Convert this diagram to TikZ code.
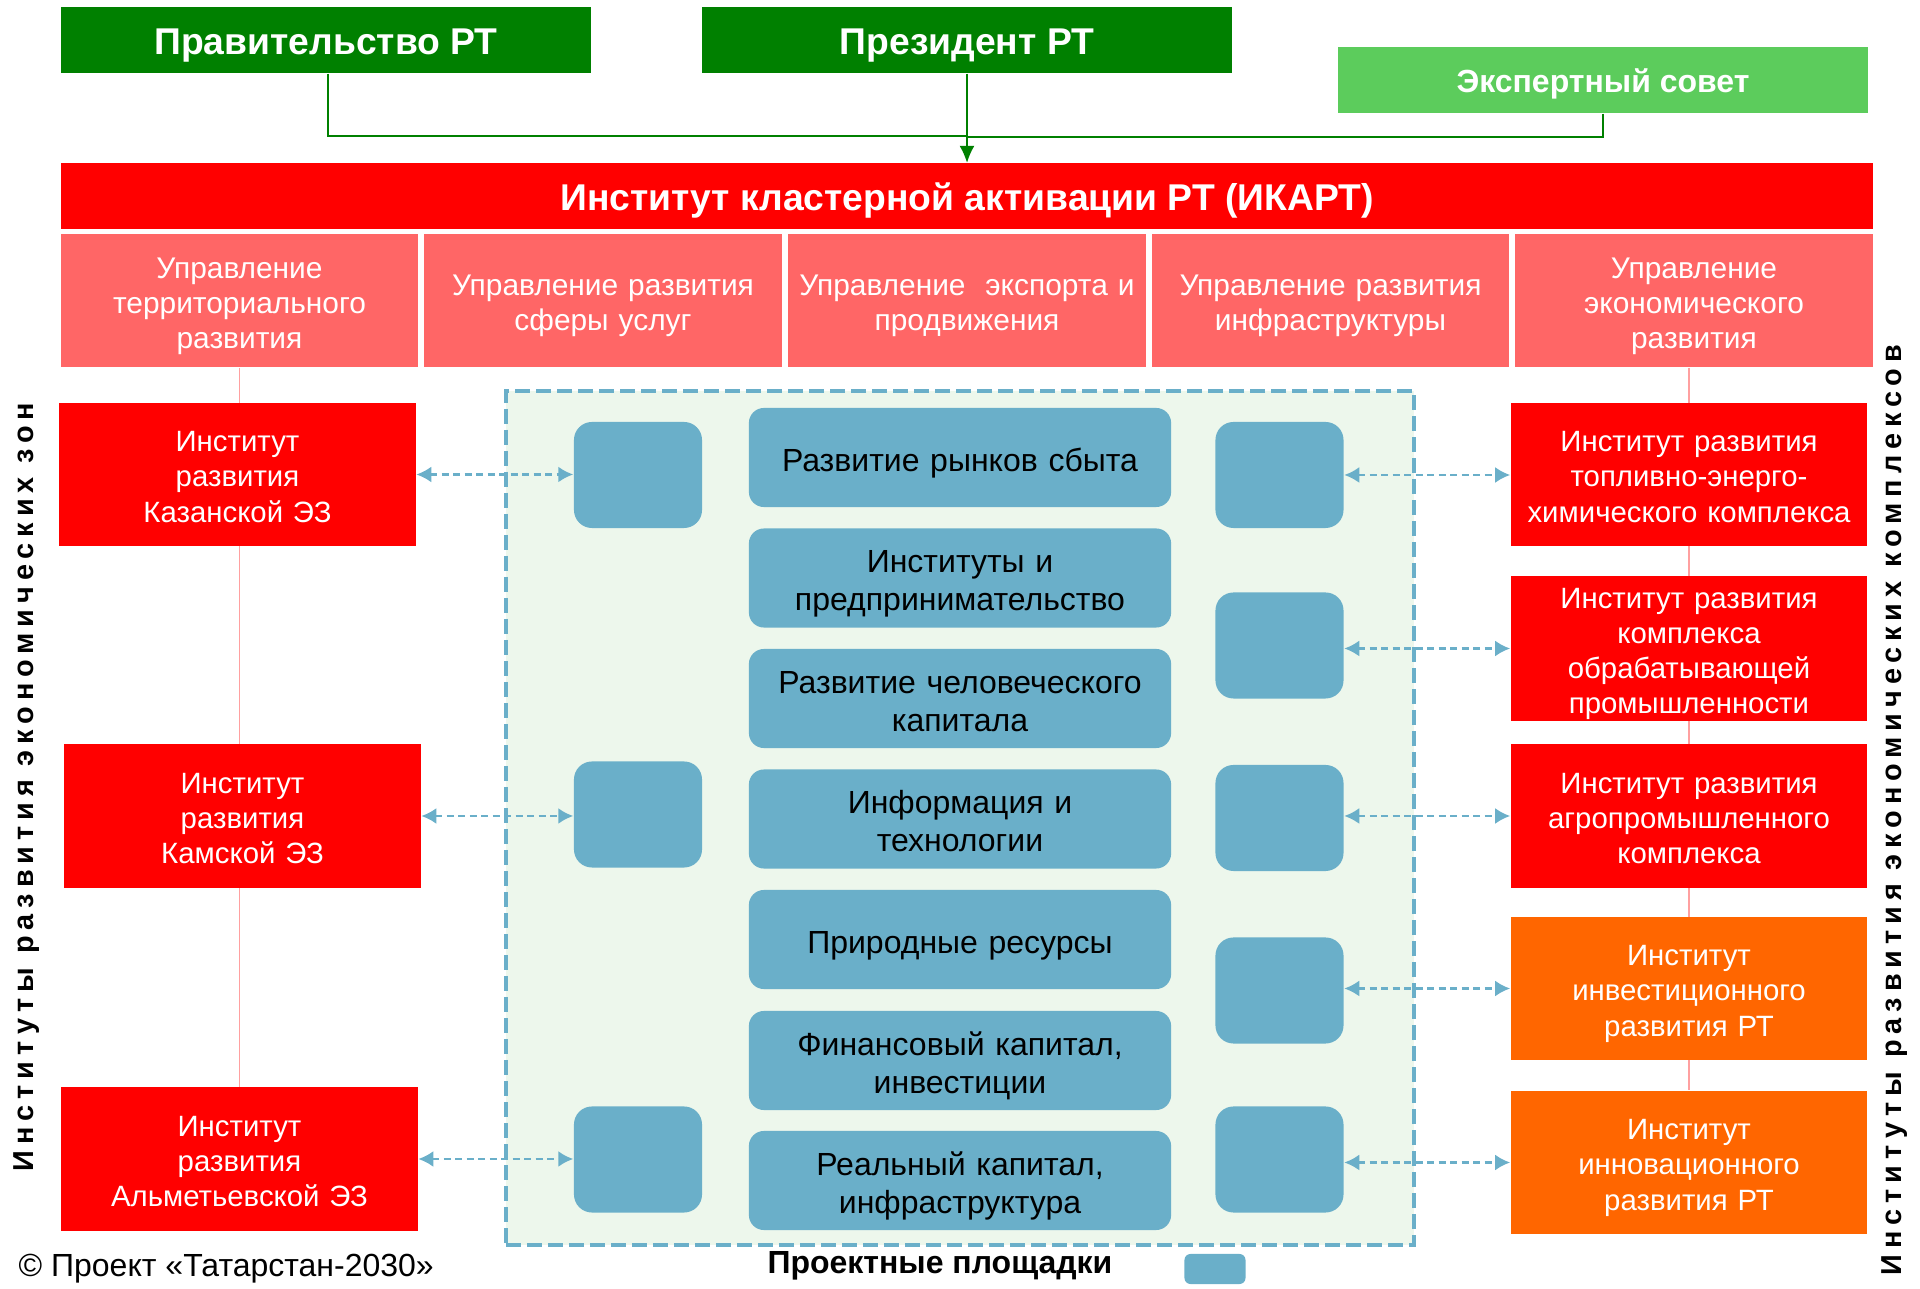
\documentclass[tikz,border=0pt]{standalone}
\usepackage{fontspec}
\setmainfont{Liberation Sans}
\newfontfamily\spacedfont[LetterSpace=20.5]{Liberation Sans}
\usetikzlibrary{arrows.meta,backgrounds}

\definecolor{govgreen}{RGB}{0,128,0}
\definecolor{expertgreen}{RGB}{92,204,92}
\definecolor{ikartred}{RGB}{255,0,0}
\definecolor{uprpink}{RGB}{255,102,102}
\definecolor{instorange}{RGB}{255,102,0}
\definecolor{siteblue}{RGB}{106,175,201}
\definecolor{sitebg}{RGB}{237,247,236}
\definecolor{linkpink}{RGB}{255,160,160}

% invisible struts, they push the text a bit lower in its box
\newcommand{\boxstrut}[1]{\rule[-0.25em]{0pt}{#1}}
\newcommand{\topstrut}{\rule{0pt}{1.1em}}
\newcommand{\botstrut}{\rule[-0.25em]{0pt}{0.25em}}

\tikzset{
  topbox/.style={fill=govgreen, text=white, font=\bfseries\fontsize{10.6}{12}\selectfont,
    minimum width=5.3cm, minimum height=0.66cm, inner sep=0pt,
    execute at begin node=\boxstrut{1.27em}},
  multiline/.style={align=center, inner sep=0pt,
    execute at begin node=\topstrut, execute at end node=\botstrut},
  uprbox/.style={multiline, fill=uprpink, text=white, font=\fontsize{8.5}{10}\selectfont,
    text width=3.5cm, minimum width=3.57cm, minimum height=1.33cm},
  instbox/.style={multiline, fill=ikartred, text=white, font=\fontsize{8.35}{10}\selectfont,
    text width=3.5cm, minimum width=3.56cm, minimum height=1.43cm},
  factorbox/.style={multiline, fill=siteblue, rounded corners=0.15cm, font=\fontsize{9.1}{10.8}\selectfont,
    text width=4.1cm, minimum width=4.22cm, minimum height=0.99cm},
  sitebox/.style={fill=siteblue, rounded corners=0.18cm, minimum width=1.28cm,
    minimum height=1.06cm, inner sep=0pt},
  sidelabel/.style={rotate=90, font=\spacedfont\bfseries\fontsize{8.2}{9}\selectfont, inner sep=0pt},
  link/.style={siteblue, line width=0.025cm, dash pattern=on 0.07cm off 0.045cm,
    {Latex[length=0.15cm,width=0.16cm]}-{Latex[length=0.15cm,width=0.16cm]}},
  govlink/.style={govgreen, line width=0.014cm},
  treelink/.style={linkpink, line width=0.012cm}
}

\begin{document}
\begin{tikzpicture}[x=0.01cm, y=-0.01cm]
    \useasboundingbox (0,0) rectangle (1920,1289);
    % Top level
    \node(gov)  [topbox] at (326,40) {Правительство РТ};
    \node(pres) [topbox] at (967,40) {Президент РТ};
    \node(expert)[topbox, fill=expertgreen, font=\bfseries\fontsize{9.1}{10}\selectfont] at (1603,80) {Экспертный совет};
    \node(ikart)[topbox, fill=ikartred, minimum width=18.1cm, minimum height=0.65cm] at (967,196)
      {Институт кластерной активации РТ (ИКАРТ)};
    \coordinate(join) at (967,136);
    \draw[govlink] ([xshift=0.02cm]gov.south) |- (join);
    \draw[govlink] (expert.south) |- ([yshift=-0.01cm]join);
    \draw[govlink, -{Latex[length=0.17cm,width=0.15cm]}] (pres.south) -- (ikart.north);

    % Departments of ИКАРТ
    \node(upr1)[uprbox] at (239.5,300.5) {Управление\\территориального\\развития};
    \node(upr2)[uprbox] at (603,300.5)   {Управление развития\\сферы услуг};
    \node(upr3)[uprbox] at (967,300.5)   {Управление \ экспорта и\\продвижения};
    \node(upr4)[uprbox] at (1330.5,300.5){Управление развития\\инфраструктуры};
    \node(upr5)[uprbox] at (1694,300.5)  {Управление\\экономического\\развития};

    % Project sites area
    \node(sites)[draw=siteblue, fill=sitebg, line width=0.04cm, dash pattern=on 0.15cm off 0.06cm,
      minimum width=9.08cm, minimum height=8.54cm, inner sep=0pt] at (960,818) {};
    \node(f1)[factorbox] at (960,457.5)  {Развитие рынков сбыта};
    \node(f2)[factorbox] at (960,578)    {Институты и\\предпринимательство};
    \node(f3)[factorbox] at (960,698.5)  {Развитие человеческого\\капитала};
    \node(f4)[factorbox] at (960,819)    {Информация и\\технологии};
    \node(f5)[factorbox] at (960,939.5)  {Природные ресурсы};
    \node(f6)[factorbox] at (960,1060.5) {Финансовый капитал,\\инвестиции};
    \node(f7)[factorbox] at (960,1180.5) {Реальный капитал,\\инфраструктура};
    \node(sL1)[sitebox] at (638,475) {};
    \node(sL2)[sitebox] at (638,814.5) {};
    \node(sL3)[sitebox] at (638,1159.5) {};
    \node(sR1)[sitebox] at (1279.5,475) {};
    \node(sR2)[sitebox] at (1279.5,645.5) {};
    \node(sR3)[sitebox] at (1279.5,818) {};
    \node(sR4)[sitebox] at (1279.5,990.5) {};
    \node(sR5)[sitebox] at (1279.5,1159.5) {};

    % Institutes of economic zones
    \node(kazan)[instbox] at (237.5,474.5) {Институт\\развития\\Казанской ЭЗ};
    \node(kama) [instbox] at (242.5,816)   {Институт\\развития\\Камской ЭЗ};
    \node(almet)[instbox] at (239.5,1159)  {Институт\\развития\\Альметьевской ЭЗ};

    % Institutes of economic complexes
    \node(fuel) [instbox] at (1689,474.5) {Институт развития\\топливно-энерго-\\химического комплекса};
    \node(manuf)[instbox] at (1689,648.5) {Институт развития\\комплекса\\обрабатывающей\\промышленности};
    \node(agro) [instbox] at (1689,816)   {Институт развития\\агропромышленного\\комплекса};
    \node(invest)[instbox, fill=instorange] at (1689,988.5) {Институт\\инвестиционного\\развития РТ};
    \node(innov)[instbox, fill=instorange] at (1689,1162.5) {Институт\\инновационного\\развития РТ};

    \begin{scope}[on background layer]
      \draw[treelink] (upr1.south) -- (almet.north);
      \draw[treelink] (innov.north |- upr5.south) -- (innov.north);
    \end{scope}

    % Links to project sites
    \path (kazan.east) edge[link] (kazan.east -| sL1.west);
    \path (kama.east)  edge[link] (kama.east -| sL2.west);
    \path (almet.east) edge[link] (almet.east -| sL3.west);
    \path (sR1.east) edge[link] (sR1.east -| fuel.west);
    \path (manuf.west -| sR2.east) edge[link] (manuf.west);
    \path (agro.west -| sR3.east) edge[link] (agro.west);
    \path (invest.west -| sR4.east) edge[link] (invest.west);
    \path (innov.west -| sR5.east) edge[link] (innov.west);

    % Side captions and legend
    \node(zonelabel)[sidelabel] at (27,787) {Институты развития экономических зон};
    \node(complexlabel)[sidelabel] at (1895,810) {Институты развития экономических комплексов};
    \node(legendtext)[font=\bfseries\fontsize{9.1}{10}\selectfont, inner sep=0pt] at (940,1266) {Проектные площадки};
    \node(legendsite)[sitebox, minimum width=0.61cm, minimum height=0.30cm, rounded corners=0.06cm] at (1215,1269) {};
    \node(copyright)[anchor=west, font=\fontsize{9.1}{10}\selectfont, inner sep=0pt] at (18,1269)
      {© Проект «Татарстан-2030»};
\end{tikzpicture}
\end{document}
